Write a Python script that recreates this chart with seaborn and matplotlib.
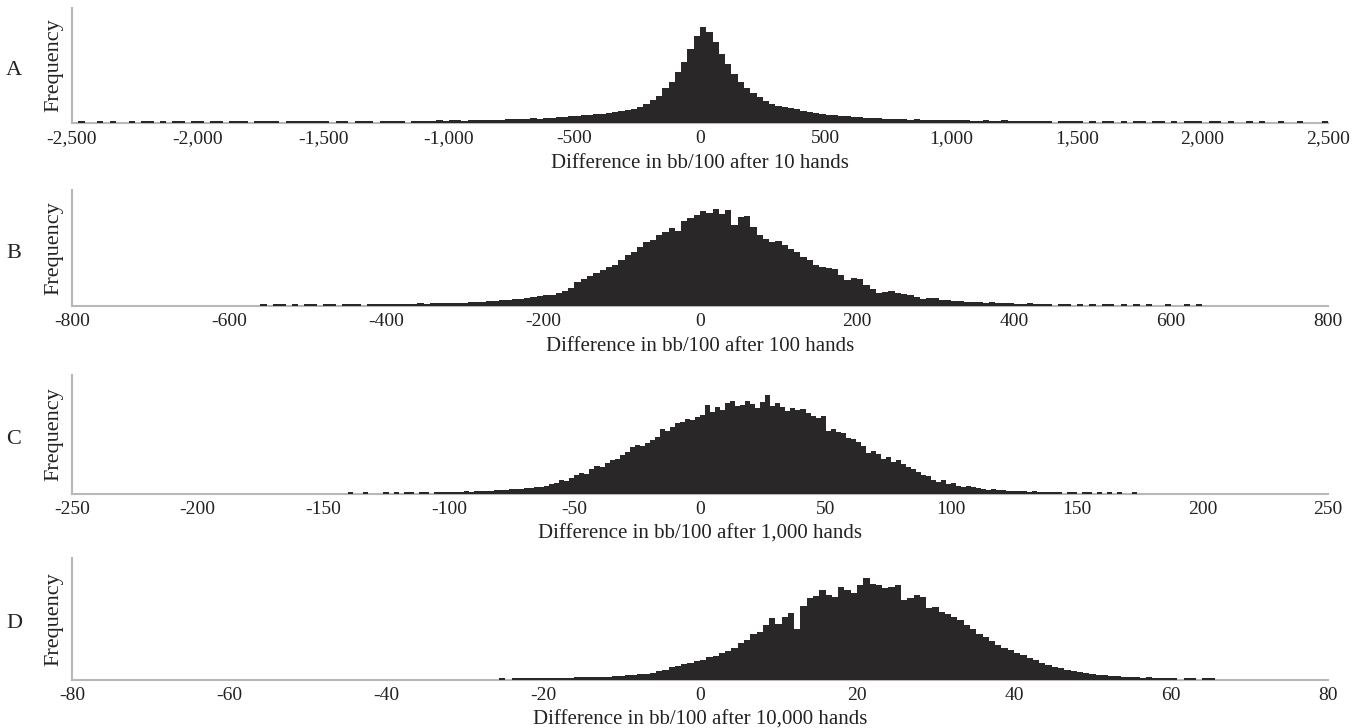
import numpy as np
import pandas as pd
import matplotlib
matplotlib.use("Agg")
import matplotlib.pyplot as plt
import seaborn as sns

# ---------------- data (relative frequencies) ----------------
panel_letters = ["A", "B", "C", "D"]
x_labels = ["Difference in bb/100 after 10 hands",
            "Difference in bb/100 after 100 hands",
            "Difference in bb/100 after 1,000 hands",
            "Difference in bb/100 after 10,000 hands"]

# Panel A: bins of width 25 starting at -2500
a_start, a_width = -2500, 25
a_heights = [
    0, 2, 0, 0, 2, 0, 2, 0, 0, 2, 0, 2, 2, 0, 2, 0, 2, 2, 0, 2,
    2, 0, 2, 2, 0, 2, 2, 2, 0, 2, 2, 2, 2, 0, 2, 2, 2, 2, 2, 2,
    2, 0, 2, 2, 0, 2, 2, 2, 0, 2, 2, 2, 2, 0, 2, 2, 2, 2, 3, 2,
    3, 3, 2, 3, 3, 3, 3, 3, 3, 4,
    4, 4, 4, 5, 4, 5, 5, 6, 6, 7,
    7, 8, 8, 9, 9, 10, 11, 12, 13, 14,
    16, 19, 23, 27, 35, 42, 52, 62, 75, 88,
    97, 92, 82, 70, 60, 50, 42, 35, 30, 26,
    22, 19, 17, 16, 15, 14, 12, 11, 10, 9,
    8, 8, 7, 7, 6, 6, 5, 5, 5, 4,
    4, 4, 4, 3, 4, 3, 3, 3, 3, 3,
    3, 3, 3, 2, 2, 3, 2, 2, 3, 2,
    2, 2, 2, 2, 2, 2, 0, 2, 2, 2,
    2, 0, 2, 0, 2, 2, 0, 2, 0, 2, 2, 0, 2, 2, 0, 2, 0, 2, 2, 2,
    0, 2, 2, 0, 2, 0, 0, 2, 0, 2, 0, 0, 2, 0, 0, 2, 0, 0, 0, 2,
]

# Panel B: bins of width 8 starting at -560
b_start, b_width = -560, 8
b_heights = [
    2, 0, 2, 2, 0, 2, 0, 2, 2, 0, 2, 2, 0, 2, 2, 2, 0, 2, 2, 2,
    2, 2, 2, 2, 2, 3, 2, 3, 3, 3,
    3, 3, 3, 4, 4, 4, 5, 5, 6, 6,
    7, 7, 8, 9, 10, 11, 11, 13, 15, 18,
    24, 27, 29, 32, 35, 38, 40, 45, 50, 53,
    58, 63, 65, 70, 73, 77, 74, 84, 86, 89,
    93, 91, 95, 90, 94, 80, 87, 88, 78, 70,
    66, 63, 64, 60, 56, 53, 48, 45, 40, 38,
    37, 36, 30, 26, 28, 27, 21, 17, 13, 14,
    15, 13, 12, 11, 9, 7, 8, 8, 6, 6,
    5, 5, 4, 4, 4, 3, 4, 3, 3, 3,
    2, 2, 3, 2, 2, 2, 0, 2, 2, 0,
    2, 0, 2, 0, 2, 2, 0, 2, 0, 2,
    0, 2, 0, 0, 2, 0, 0, 2, 0, 2,
]

# Panel C: bins of width 2 starting at -140
c_start, c_width = -140, 2
c_heights = [
    2, 0, 0, 2, 0, 0, 0, 2, 0, 2,
    0, 2, 2, 0, 2, 2, 0, 2, 2, 2,
    2, 2, 2, 3, 2, 3, 3, 3, 3, 4,
    4, 4, 5, 5, 5, 6, 6, 7, 7, 8,
    10, 11, 14, 13, 16, 19, 21, 20, 24, 27,
    26, 30, 33, 34, 38, 41, 46, 48, 47, 50,
    53, 56, 64, 62, 66, 69, 70, 73, 72, 75,
    77, 87, 80, 85, 82, 89, 91, 86, 87, 91,
    88, 84, 90, 97, 86, 89, 85, 81, 84, 82,
    83, 79, 76, 74, 76, 62, 64, 61, 60, 55,
    54, 51, 47, 40, 42, 39, 34, 36, 31, 33,
    29, 26, 24, 22, 19, 18, 14, 12, 14, 10,
    11, 8, 7, 8, 7, 6, 5, 4, 5, 4,
    4, 3, 3, 3, 3, 2, 3, 2, 2, 2,
    2, 2, 0, 2, 2, 0, 2, 2, 0, 2,
    0, 2, 0, 2, 0, 0, 2, 0,
]

# Panel D: bins of width 0.8 starting at -25.6
d_start, d_width = -25.6, 0.8
d_heights = [
    2, 0, 2, 2, 2, 2, 2, 2, 2, 2,
    2, 2, 3, 3, 3, 3, 3, 3, 4, 4,
    5, 5, 6, 6, 7, 9, 10, 12, 13, 15,
    16, 18, 19, 22, 23, 26, 28, 31, 35, 38,
    44, 46, 52, 59, 53, 60, 64, 49, 71, 78,
    80, 86, 81, 79, 89, 86, 83, 91, 97, 92,
    91, 88, 89, 91, 76, 78, 81, 79, 69, 70,
    65, 63, 60, 57, 52, 49, 44, 41, 37, 33,
    31, 29, 26, 24, 21, 19, 16, 14, 12, 11,
    10, 9, 8, 7, 6, 5, 5, 4, 4, 3,
    3, 3, 2, 3, 2, 2, 2, 2, 0, 2,
    2, 0, 2, 2,
]

x_ranges = [(-2500, 2500), (-800, 800), (-250, 250), (-80, 80)]
tick_values = [
    [-2500, -2000, -1500, -1000, -500, 0, 500, 1000, 1500, 2000, 2500],
    [-800, -600, -400, -200, 0, 200, 400, 600, 800],
    [-250, -200, -150, -100, -50, 0, 50, 100, 150, 200, 250],
    [-80, -60, -40, -20, 0, 20, 40, 60, 80],
]
tick_labels = [
    ["-2,500", "-2,000", "-1,500", "-1,000", "-500", "0", "500", "1,000", "1,500", "2,000", "2,500"],
    ["-800", "-600", "-400", "-200", "0", "200", "400", "600", "800"],
    ["-250", "-200", "-150", "-100", "-50", "0", "50", "100", "150", "200", "250"],
    ["-80", "-60", "-40", "-20", "0", "20", "40", "60", "80"],
]

panels = [(a_start, a_width, a_heights), (b_start, b_width, b_heights),
          (c_start, c_width, c_heights), (d_start, d_width, d_heights)]

# ---------------- figure ----------------
sns.set_theme(style="white")
plt.rcParams["font.family"] = ["Liberation Serif", "DejaVu Serif"]

W, H = 1357, 728
fig = plt.figure(figsize=(W / 100, H / 100), dpi=100)

# axes boxes in pixels: (top, bottom)
boxes = [(8, 123), (190, 306), (375, 494), (558, 680)]
left_px, right_px = 72, 1328

bar_color = "#2a2728"
spine_color = "#b8b8b8"
text_color = "#222222"

for i, ((start, width, heights), (top, bot)) in enumerate(zip(panels, boxes)):
    ax = fig.add_axes([left_px / W, 1 - bot / H, (right_px - left_px) / W, (bot - top) / H])
    n = len(heights)
    centers = start + width * (np.arange(n) + 0.5)
    df = pd.DataFrame({"value": centers, "freq": np.asarray(heights, dtype=float)})
    sns.histplot(data=df, x="value", weights="freq", binwidth=width,
                 binrange=(start, start + width * n), ax=ax,
                 element="step", fill=True, color=bar_color, alpha=1.0,
                 linewidth=0, zorder=3)
    ax.set_xlim(*x_ranges[i])
    ax.set_ylim(0, max(heights) * 1.2)
    ax.set_xticks(tick_values[i])
    ax.set_xticklabels(tick_labels[i], fontsize=14)
    ax.set_yticks([])
    ax.tick_params(axis="x", length=2, width=1, color=spine_color, pad=3, labelcolor=text_color)
    ax.set_xlabel(x_labels[i], fontsize=15, color=text_color, labelpad=5)
    ax.set_ylabel("Frequency", fontsize=16, color=text_color, labelpad=6)
    for s in ["top", "right"]:
        ax.spines[s].set_visible(False)
    for s in ["left", "bottom"]:
        ax.spines[s].set_color(spine_color)
        ax.spines[s].set_linewidth(1.5)
        ax.spines[s].set_zorder(1)
    fig.text(14 / W, 1 - ((top + bot) / 2 + 5) / H, panel_letters[i],
             fontsize=16, color=text_color, ha="center", va="center")

fig.savefig("out.png", dpi=100, facecolor="white")
